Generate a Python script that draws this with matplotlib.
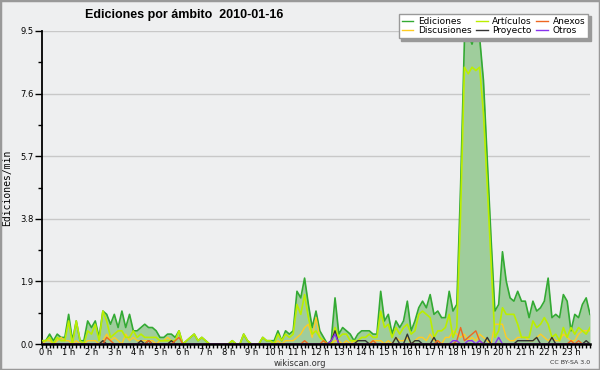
import numpy as np
import matplotlib.pyplot as plt
from matplotlib.patches import Rectangle
from matplotlib.transforms import ScaledTranslation

# edits per minute, one value every 10 minutes (0 h .. 24 h), one row per hour
ediciones = [
    0.1, 0.1, 0.3, 0.1, 0.3, 0.2,
    0.2, 0.9, 0.1, 0.7, 0.1, 0.1,
    0.7, 0.5, 0.7, 0.2, 1.0, 0.9,
    0.6, 0.9, 0.5, 1.0, 0.5, 0.9,
    0.4, 0.4, 0.5, 0.6, 0.5, 0.5,
    0.4, 0.2, 0.2, 0.3, 0.3, 0.2,
    0.4, 0.0, 0.1, 0.2, 0.3, 0.1,
    0.2, 0.1, 0.0, 0.0, 0.0, 0.0,
    0.0, 0.0, 0.1, 0.0, 0.0, 0.3,
    0.1, 0.0, 0.0, 0.0, 0.2, 0.1,
    0.1, 0.1, 0.4, 0.1, 0.4, 0.3,
    0.4, 1.6, 1.4, 2.0, 1.2, 0.5,
    1.0, 0.4, 0.2, 0.0, 0.1, 1.4,
    0.3, 0.5, 0.4, 0.3, 0.1, 0.3,
    0.4, 0.4, 0.4, 0.3, 0.3, 1.6,
    0.7, 0.9, 0.3, 0.7, 0.5, 0.7,
    1.3, 0.4, 0.7, 1.1, 1.3, 1.1,
    1.5, 0.9, 1.0, 0.8, 0.8, 1.6,
    1.0, 1.2, 4.8, 9.2, 9.4, 9.1,
    9.5, 9.3, 8.0, 5.6, 3.2, 1.0,
    1.2, 2.8, 1.9, 1.4, 1.3, 1.6,
    1.3, 1.3, 0.8, 1.3, 1.0, 1.1,
    1.3, 2.0, 0.8, 0.9, 0.8, 1.5,
    1.3, 0.4, 0.9, 0.8, 1.2, 1.4,
    0.9,
]
articulos = [
    0.1, 0.1, 0.2, 0.0, 0.2, 0.1,
    0.1, 0.7, 0.0, 0.7, 0.1, 0.0,
    0.4, 0.3, 0.6, 0.1, 1.0, 0.7,
    0.2, 0.3, 0.4, 0.4, 0.2, 0.2,
    0.4, 0.2, 0.3, 0.2, 0.2, 0.2,
    0.2, 0.1, 0.1, 0.1, 0.1, 0.1,
    0.4, 0.0, 0.1, 0.2, 0.3, 0.1,
    0.2, 0.1, 0.0, 0.0, 0.0, 0.0,
    0.0, 0.0, 0.1, 0.0, 0.0, 0.3,
    0.1, 0.0, 0.0, 0.0, 0.2, 0.1,
    0.1, 0.0, 0.3, 0.1, 0.3, 0.2,
    0.3, 1.2, 0.9, 1.5, 0.8, 0.3,
    0.4, 0.2, 0.1, 0.0, 0.0, 0.5,
    0.2, 0.3, 0.3, 0.1, 0.1, 0.1,
    0.2, 0.2, 0.3, 0.2, 0.2, 1.0,
    0.5, 0.6, 0.2, 0.5, 0.3, 0.5,
    0.6, 0.3, 0.4, 0.9, 1.0, 0.9,
    0.8, 0.2, 0.4, 0.4, 0.5, 0.9,
    0.2, 0.5, 4.0, 8.4, 8.2, 8.4,
    8.3, 8.4, 7.0, 4.8, 2.5, 0.2,
    0.4, 1.1, 0.9, 0.9, 0.9, 0.6,
    0.2, 0.2, 0.2, 0.7, 0.5, 0.6,
    0.8, 0.6, 0.2, 0.3, 0.1, 0.5,
    0.2, 0.5, 0.3, 0.5, 0.4, 0.3,
    0.5,
]
discusiones = [
    0.0, 0.1, 0.1, 0.0, 0.1, 0.2,
    0.1, 0.1, 0.0, 0.1, 0.0, 0.0,
    0.1, 0.1, 0.1, 0.0, 0.1, 0.3,
    0.1, 0.2, 0.1, 0.0, 0.3, 0.1,
    0.2, 0.1, 0.1, 0.1, 0.1, 0.1,
    0.0, 0.1, 0.1, 0.2, 0.1, 0.0,
    0.0, 0.0, 0.0, 0.0, 0.0, 0.0,
    0.0, 0.0, 0.0, 0.0, 0.0, 0.0,
    0.0, 0.0, 0.0, 0.0, 0.0, 0.0,
    0.0, 0.0, 0.0, 0.0, 0.0, 0.0,
    0.0, 0.0, 0.1, 0.0, 0.1, 0.1,
    0.1, 0.2, 0.3, 0.5, 0.6, 0.2,
    0.8, 0.2, 0.1, 0.0, 0.0, 0.1,
    0.1, 0.0, 0.1, 0.0, 0.1, 0.0,
    0.0, 0.0, 0.0, 0.1, 0.1, 0.1,
    0.0, 0.1, 0.0, 0.2, 0.1, 0.1,
    0.2, 0.0, 0.1, 0.2, 0.2, 0.1,
    0.3, 0.1, 0.1, 0.0, 0.2, 0.2,
    0.4, 0.3, 0.2, 0.3, 0.1, 0.2,
    0.1, 0.3, 0.2, 0.1, 0.0, 0.6,
    0.6, 0.6, 0.2, 0.1, 0.1, 0.2,
    0.2, 0.2, 0.1, 0.1, 0.2, 0.3,
    0.2, 0.1, 0.2, 0.1, 0.1, 0.3,
    0.2, 0.1, 0.1, 0.3, 0.4, 0.4,
    0.4,
]
proyecto = [
    0.0, 0.0, 0.0, 0.0, 0.0, 0.0,
    0.0, 0.0, 0.0, 0.0, 0.0, 0.0,
    0.0, 0.0, 0.0, 0.0, 0.1, 0.0,
    0.0, 0.0, 0.0, 0.0, 0.0, 0.0,
    0.0, 0.0, 0.1, 0.0, 0.1, 0.0,
    0.0, 0.0, 0.0, 0.0, 0.1, 0.0,
    0.0, 0.0, 0.0, 0.0, 0.0, 0.0,
    0.0, 0.0, 0.0, 0.0, 0.0, 0.0,
    0.0, 0.0, 0.0, 0.0, 0.0, 0.0,
    0.0, 0.0, 0.0, 0.0, 0.0, 0.0,
    0.0, 0.0, 0.0, 0.0, 0.0, 0.0,
    0.0, 0.0, 0.0, 0.0, 0.0, 0.0,
    0.0, 0.0, 0.0, 0.0, 0.1, 0.4,
    0.0, 0.0, 0.0, 0.0, 0.0, 0.1,
    0.1, 0.1, 0.0, 0.0, 0.0, 0.0,
    0.0, 0.0, 0.0, 0.2, 0.0, 0.0,
    0.3, 0.0, 0.1, 0.1, 0.0, 0.0,
    0.0, 0.2, 0.0, 0.0, 0.0, 0.0,
    0.0, 0.0, 0.0, 0.0, 0.0, 0.0,
    0.0, 0.0, 0.0, 0.2, 0.0, 0.0,
    0.0, 0.0, 0.0, 0.0, 0.0, 0.1,
    0.1, 0.1, 0.1, 0.1, 0.2, 0.0,
    0.0, 0.0, 0.2, 0.0, 0.0, 0.0,
    0.0, 0.0, 0.0, 0.0, 0.0, 0.1,
    0.0,
]
anexos = [
    0.0, 0.0, 0.0, 0.0, 0.0, 0.0,
    0.0, 0.0, 0.0, 0.0, 0.0, 0.0,
    0.0, 0.0, 0.0, 0.0, 0.0, 0.2,
    0.1, 0.0, 0.0, 0.0, 0.0, 0.0,
    0.0, 0.0, 0.0, 0.0, 0.1, 0.0,
    0.0, 0.0, 0.0, 0.0, 0.0, 0.1,
    0.2, 0.0, 0.0, 0.0, 0.0, 0.0,
    0.0, 0.0, 0.0, 0.0, 0.0, 0.0,
    0.0, 0.0, 0.0, 0.0, 0.0, 0.0,
    0.0, 0.0, 0.0, 0.0, 0.0, 0.0,
    0.0, 0.0, 0.0, 0.0, 0.0, 0.0,
    0.0, 0.0, 0.0, 0.1, 0.0, 0.0,
    0.0, 0.0, 0.1, 0.0, 0.0, 0.0,
    0.0, 0.0, 0.0, 0.0, 0.0, 0.0,
    0.0, 0.0, 0.0, 0.1, 0.0, 0.0,
    0.0, 0.0, 0.0, 0.0, 0.0, 0.0,
    0.0, 0.0, 0.0, 0.0, 0.0, 0.0,
    0.0, 0.0, 0.1, 0.0, 0.0, 0.0,
    0.0, 0.1, 0.5, 0.1, 0.2, 0.3,
    0.4, 0.1, 0.0, 0.0, 0.0, 0.0,
    0.0, 0.0, 0.0, 0.0, 0.0, 0.0,
    0.0, 0.0, 0.0, 0.0, 0.0, 0.0,
    0.0, 0.0, 0.0, 0.0, 0.0, 0.0,
    0.0, 0.1, 0.0, 0.1, 0.0, 0.0,
    0.0,
]
otros = [0.0] * 76 + [0.1, 0.3] + [0.0] * 30 + [0.1, 0.1, 0.0, 0.0, 0.1, 0.1,
    0.0, 0.1, 0.0, 0.0, 0.0, 0.0, 0.2] + [0.0] * 24

series = [
    ("Ediciones", ediciones, "#33aa33"),
    ("Discusiones", discusiones, "#ffcc22"),
    ("Artículos", articulos, "#bbee00"),
    ("Proyecto", proyecto, "#333333"),
    ("Anexos", anexos, "#ee6622"),
    ("Otros", otros, "#8833ee"),
]

bg = "#eeeff0"
fig = plt.figure(figsize=(6, 3.7), dpi=100, facecolor=bg)
ax = fig.add_axes([42 / 600, 26 / 370, 548 / 600, 313 / 370], facecolor=bg)

hours = np.arange(len(ediciones)) / 6.0
ax.fill_between(hours, 0, ediciones, color="#9fcd9c", lw=0, zorder=2)
for name, vals, col in series:
    lw = 1.2 if name in ("Ediciones", "Artículos") else 1.0
    ax.plot(hours, vals, color=col, lw=lw, label=name, zorder=3)

ax.set_xlim(0, 24)
ax.set_ylim(0, 9.5)
yt = [0.0, 1.9, 3.8, 5.7, 7.6, 9.5]
ax.set_yticks(yt)
ax.set_yticklabels([f"{v:.1f}" for v in yt], fontsize=6)
ax.set_yticks([0.95, 2.85, 4.75, 6.65, 8.55], minor=True)
ax.grid(axis="y", color="#c8c8c8", lw=1, zorder=1)
ax.set_xticks(range(24))
ax.set_xticklabels([f"{h} h" for h in range(24)], fontsize=6)
ax.set_xticks(np.arange(0, 24.01, 1 / 6), minor=True)
ax.tick_params(axis="x", which="major", length=3, width=1, pad=0)
ax.tick_params(axis="x", which="minor", length=3, width=1)
ax.tick_params(axis="y", which="major", length=5, width=1, pad=1)
ax.tick_params(axis="y", which="minor", length=3, width=1)
for lbl in ax.get_xticklabels():
    lbl.set_transform(lbl.get_transform() + ScaledTranslation(4 / 100, 0, fig.dpi_scale_trans))
for s in ("top", "right"):
    ax.spines[s].set_visible(False)
ax.spines["bottom"].set_linewidth(1.8)
ax.spines["left"].set_linewidth(1.3)
ax.spines["bottom"].set_zorder(4)

ax.set_ylabel("Ediciones/min", family="DejaVu Sans Mono", fontsize=7, labelpad=6)

fig.text(85 / 600, 1 - 15 / 370, "Ediciones por ámbito  2010-01-16", fontsize=9,
         family="Liberation Sans", fontweight="bold", ha="left", va="center")
fig.text(300 / 600, 1 - 363.5 / 370, "wikiscan.org", fontsize=6, ha="center", va="center", color="#333333")
fig.text(570 / 600, 1 - 363 / 370, "CC BY-SA 3.0", fontsize=4.5, ha="center", va="center", color="#333333")

leg = fig.legend(loc="upper right", bbox_to_anchor=(593 / 600, 1 - 9 / 370), ncol=3,
                 fontsize=6.5, handlelength=1.3, handletextpad=0.5, columnspacing=0.5,
                 labelspacing=0.05, borderpad=0.35, fancybox=False, framealpha=1,
                 edgecolor="#999999", shadow={"color": "#999999", "alpha": 1})
for h in leg.get_lines():
    h.set_linewidth(1.0)

fig.patches.append(Rectangle((0, 0), 1, 1, transform=fig.transFigure, fill=False,
                             ec="#999999", lw=2.5, zorder=10))

fig.savefig("out.png", dpi=100, facecolor=bg)
